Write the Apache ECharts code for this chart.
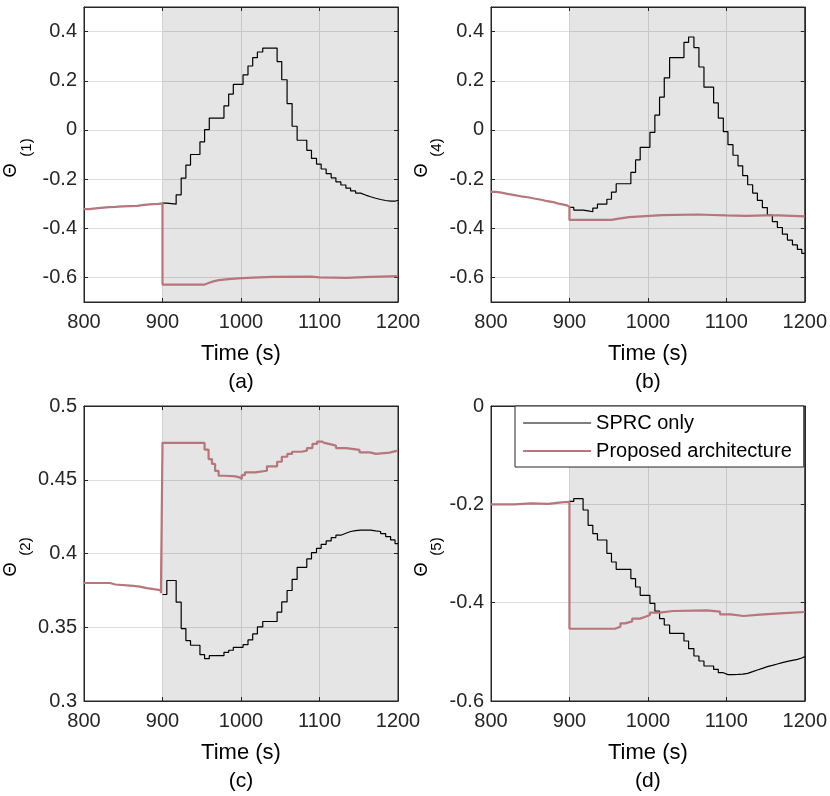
<!DOCTYPE html>
<html>
<head>
<meta charset="utf-8">
<title>Theta</title>
<script src="https://cdn.jsdelivr.net/npm/echarts@6/dist/echarts.min.js"></script>
<style>
html, body { margin: 0; padding: 0; background: #fff; }
#main { width: 830px; height: 796px; }
</style>
</head>
<body>
<div id="main"></div>
<script>
// SPRC 阶梯变化时刻 (s)
var sprcT = [900, 905.5, 917.4, 923.8, 929.8, 935.7, 947.7, 953.6, 959.6, 978.3, 984.3, 990.2,
    1002.6, 1008.9, 1014.9, 1020.9, 1027.7, 1046, 1051.9, 1058.7, 1065.1, 1071.5, 1083.8, 1089.8,
    1096.2, 1102.1, 1108.5, 1114.9, 1120.9, 1127.2, 1133.6, 1139.6, 1146, 1152.3, 1158.7, 1165.1,
    1171.5, 1177.9, 1184.3, 1190.6, 1196.2, 1200];

// SPRC only
var sprc1 = [-0.298, -0.302, -0.264, -0.196, -0.143, -0.100, -0.049, 0.001, 0.048, 0.098, 0.146, 0.185,
    0.224, 0.260, 0.294, 0.317, 0.333, 0.278, 0.204, 0.107, 0.015, -0.042, -0.083, -0.116,
    -0.139, -0.159, -0.178, -0.195, -0.211, -0.224, -0.237, -0.248, -0.257, -0.265, -0.272, -0.278,
    -0.283, -0.287, -0.290, -0.290, -0.286, -0.286];
var sprc4 = [-0.315, -0.326, -0.329, -0.333, -0.318, -0.302, -0.282, -0.253, -0.219, -0.173, -0.122, -0.071,
    -0.010, 0.060, 0.133, 0.212, 0.294, 0.356, 0.378, 0.335, 0.256, 0.174, 0.110, 0.048,
    -0.007, -0.060, -0.103, -0.146, -0.186, -0.223, -0.257, -0.287, -0.316, -0.346, -0.373, -0.397,
    -0.424, -0.448, -0.468, -0.486, -0.502, -0.502];
var sprc2 = [0.3722, 0.3817, 0.3670, 0.3491, 0.3409, 0.3378, 0.3314, 0.3287, 0.3307, 0.3330, 0.3344, 0.3364,
    0.3382, 0.3414, 0.3455, 0.3502, 0.3539, 0.3602, 0.3672, 0.3749, 0.3824, 0.3906, 0.3963, 0.4006,
    0.4035, 0.4062, 0.4085, 0.4108, 0.4124, 0.4137, 0.4149, 0.4155, 0.4158, 0.4158, 0.4158, 0.4153,
    0.4149, 0.4135, 0.4115, 0.4092, 0.4067, 0.4067];
var sprc5 = [-0.194, -0.1885, -0.2115, -0.2427, -0.2597, -0.2725, -0.2997, -0.3173, -0.3322, -0.3512, -0.3681, -0.3851,
    -0.4014, -0.4170, -0.4325, -0.4454, -0.4624, -0.4780, -0.4936, -0.5085, -0.5186, -0.5288, -0.5356, -0.5424,
    -0.5464, -0.5464, -0.5460, -0.5455, -0.5437, -0.5403, -0.5370, -0.5336, -0.5302, -0.5275, -0.5247, -0.5220,
    -0.5193, -0.5173, -0.5153, -0.5125, -0.5098, -0.5098];

// Proposed architecture
var propT1 = [800, 806, 812, 818, 825, 832, 840, 849, 858, 868, 874, 880, 887, 895, 900, 953.6, 959.6, 965.8,
    972, 984.3, 996.4, 1014.9, 1040, 1090, 1100, 1120, 1133.6, 1165, 1200];
var prop1 = [-0.322, -0.320, -0.318, -0.316, -0.314, -0.313, -0.311, -0.310, -0.309, -0.306, -0.304, -0.302,
    -0.301, -0.299, -0.629, -0.622, -0.615, -0.611, -0.607, -0.604, -0.601, -0.598, -0.597, -0.600, -0.601,
    -0.602, -0.598, -0.595, -0.595];
var propT4 = [800, 806, 813, 821, 830, 838, 847, 855, 864, 872, 881, 886, 891, 897, 900, 953.6, 963, 976, 997,
    1018, 1065, 1082, 1100, 1125, 1150, 1167, 1200];
var prop4 = [-0.252, -0.255, -0.260, -0.265, -0.270, -0.274, -0.279, -0.284, -0.290, -0.295, -0.300, -0.303,
    -0.307, -0.313, -0.366, -0.361, -0.355, -0.351, -0.347, -0.344, -0.346, -0.348, -0.350, -0.348, -0.348,
    -0.352, -0.354];
var propT2 = [800, 820, 833, 840, 863, 871, 880, 893, 898, 900, 953.6, 958.7, 963, 967, 971.5, 980, 993, 998,
    1001, 1005, 1018, 1033, 1046, 1052, 1059, 1065, 1077, 1084, 1091, 1097, 1103, 1106, 1112, 1121, 1134,
    1151, 1164, 1172, 1189, 1200];
var prop2 = [0.380, 0.380, 0.379, 0.378, 0.3775, 0.3765, 0.3755, 0.375, 0.373, 0.475, 0.4704, 0.464, 0.4607,
    0.456, 0.4527, 0.4523, 0.4516, 0.4505, 0.4532, 0.455, 0.4561, 0.4591, 0.4622, 0.4656, 0.4675, 0.469,
    0.4697, 0.4715, 0.4743, 0.4759, 0.475, 0.4743, 0.4731, 0.4715, 0.4702, 0.4686, 0.4675, 0.4684, 0.4697, 0.4697];
var propT5 = [800, 830, 851, 873, 890, 900, 958, 965, 971, 980, 990, 996, 1002.6, 1015, 1032, 1075, 1092,
    1105.5, 1122, 1143, 1168.5, 1200];
var prop5 = [-0.200, -0.198, -0.199, -0.196, -0.195, -0.453, -0.449, -0.442, -0.438, -0.4325, -0.429, -0.425,
    -0.4203, -0.417, -0.4156, -0.4183, -0.4237, -0.4271, -0.4244, -0.4217, -0.419, -0.419];

// 刻度
var yTicks14 = [-0.6, -0.4, -0.2, 0, 0.2, 0.4];
var yTicks2 = [0.3, 0.35, 0.4, 0.45, 0.5];
var yTicks5 = [-0.6, -0.4, -0.2, 0];

var FONT = 'Liberation Sans, Arial, Helvetica, sans-serif';
var INK = '#262626';
var RED = '#b5767c';

function pairs(t, v) {
    var out = [];
    for (var i = 0; i < t.length; i++) {
        out.push([t[i], v[i]]);
    }
    return out;
}

// lx: 纵轴名称 Θ 的水平位置
var panels = [
    { pos: { left: 84, top: 7 }, lx: 11.5, yMin: -0.7, yMax: 0.5, yTicks: yTicks14, sub: '1', cap: '(a)', sprc: sprc1, pT: propT1, p: prop1 },
    { pos: { left: 491, top: 7 }, lx: 422, yMin: -0.7, yMax: 0.5, yTicks: yTicks14, sub: '4', cap: '(b)', sprc: sprc4, pT: propT4, p: prop4 },
    { pos: { left: 84, top: 406 }, lx: 11, yMin: 0.3, yMax: 0.5, interval: 0.05, yTicks: yTicks2, sub: '2', cap: '(c)', sprc: sprc2, pT: propT2, p: prop2 },
    { pos: { left: 491, top: 406 }, lx: 422, yMin: -0.6, yMax: 0, interval: 0.2, yTicks: yTicks5, sub: '5', cap: '(d)', sprc: sprc5, pT: propT5, p: prop5 }
];

var grids = [], xAxes = [], yAxes = [], series = [], texts = [];

panels.forEach(function (pn, i) {
    grids.push({
        left: pn.pos.left, top: pn.pos.top, width: 314, height: 295,
        show: true, backgroundColor: '#fff', borderColor: INK, borderWidth: 1
    });
    // 下方 x 轴
    xAxes.push({
        gridIndex: i, type: 'value', min: 800, max: 1200, interval: 100,
        name: '{t|Time (s)}\n{c|' + pn.cap + '}',
        nameLocation: 'middle', nameGap: 37,
        nameTextStyle: {
            rich: {
                t: { fontSize: 22, lineHeight: 29, color: '#000', fontFamily: FONT },
                c: { fontSize: 21, lineHeight: 29, color: '#000', fontFamily: FONT }
            }
        },
        axisLine: { show: true, onZero: false, lineStyle: { color: INK, width: 1 } },
        axisTick: { show: true, inside: true, length: 4, lineStyle: { color: INK } },
        axisLabel: {
            fontSize: 20, color: INK, fontFamily: FONT, margin: 10, showMinLabel: true, showMaxLabel: true,
            formatter: function (v) { return String(v); }
        },
        splitLine: { show: true, lineStyle: { color: '#dedede', width: 1 } }
    });
    // 上方 x 轴（只画刻度）
    xAxes.push({
        gridIndex: i, type: 'value', position: 'top', min: 800, max: 1200, interval: 100,
        axisLine: { show: true, onZero: false, lineStyle: { color: INK, width: 1 } },
        axisTick: { show: true, inside: true, length: 4, lineStyle: { color: INK } },
        axisLabel: { show: false },
        splitLine: { show: false }
    });
    var yl = {
        gridIndex: i, type: 'value', min: pn.yMin, max: pn.yMax,
        axisLine: { show: true, onZero: false, lineStyle: { color: INK, width: 1 } },
        axisTick: { show: true, inside: true, length: 4, customValues: pn.yTicks, lineStyle: { color: INK } },
        axisLabel: { fontSize: 20, color: INK, fontFamily: FONT, margin: 7, customValues: pn.yTicks },
        splitLine: { show: true, lineStyle: { color: '#dedede', width: 1 } }
    };
    if (pn.interval) {
        yl.interval = pn.interval;
    } else {
        yl.splitNumber = 6;
    }
    yAxes.push(yl);
    // 右侧 y 轴（只画刻度）
    yAxes.push({
        gridIndex: i, type: 'value', position: 'right', min: pn.yMin, max: pn.yMax,
        axisLine: { show: true, onZero: false, lineStyle: { color: INK, width: 1 } },
        axisTick: { show: true, inside: true, length: 4, customValues: pn.yTicks, lineStyle: { color: INK } },
        axisLabel: { show: false, customValues: pn.yTicks },
        splitLine: { show: false }
    });

    // 纵轴名称 Θ 加下标
    var cy = pn.pos.top + 147.5;
    texts.push({
        type: 'text', x: pn.lx, y: cy + 16, rotation: Math.PI / 2, z: 20,
        style: { text: 'Θ', font: '18px "Liberation Sans", Arial, sans-serif', fill: '#000', align: 'center', verticalAlign: 'middle' }
    });
    texts.push({
        type: 'text', x: pn.lx + 15, y: cy - 7, rotation: Math.PI / 2, z: 20,
        style: { text: '(' + pn.sub + ')', font: '15px "Liberation Sans", Arial, sans-serif', fill: '#000', align: 'center', verticalAlign: 'middle' }
    });

    series.push({
        name: 'SPRC only', type: 'line', step: 'end',
        xAxisIndex: 2 * i, yAxisIndex: 2 * i,
        data: pairs(sprcT, pn.sprc),
        symbol: 'none', showSymbol: false, z: 3,
        lineStyle: { color: '#000', width: 1.2 },
        itemStyle: { color: '#000' },
        markArea: {
            silent: true,
            label: { show: false },
            itemStyle: { color: 'rgba(0,0,0,0.1)' },
            data: [[{ xAxis: 900 }, { xAxis: 1200 }]]
        }
    });
    series.push({
        name: 'Proposed architecture', type: 'line', step: 'end',
        xAxisIndex: 2 * i, yAxisIndex: 2 * i,
        data: pairs(pn.pT, pn.p),
        symbol: 'none', showSymbol: false, z: 4,
        lineStyle: { color: RED, width: 2.2 },
        itemStyle: { color: RED }
    });
});

var chart = echarts.init(document.getElementById('main'));
chart.setOption({
    animation: false,
    backgroundColor: '#fff',
    textStyle: { fontFamily: FONT },
    grid: grids,
    xAxis: xAxes,
    yAxis: yAxes,
    graphic: texts,
    legend: {
        data: [
            { name: 'SPRC only', lineStyle: { width: 1.1 } },
            { name: 'Proposed architecture', lineStyle: { width: 2.2 } }
        ],
        orient: 'vertical', left: 515, top: 406,
        itemWidth: 68, itemHeight: 14, itemGap: 8,
        padding: [7, 12, 6, 7],
        backgroundColor: '#fff', borderColor: INK, borderWidth: 1, borderRadius: 0,
        itemStyle: { opacity: 0 },
        textStyle: { fontSize: 20, color: '#000', fontFamily: FONT },
        z: 10
    },
    series: series
});
</script>
</body>
</html>
